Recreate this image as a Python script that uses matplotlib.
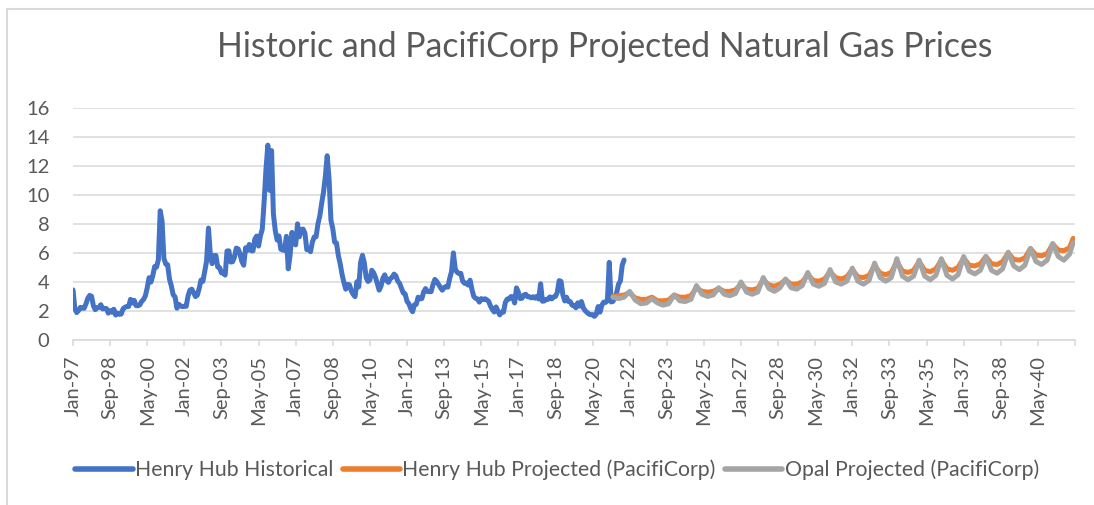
import matplotlib
matplotlib.use('Agg')
import matplotlib.pyplot as plt
from matplotlib.patches import Rectangle

plt.rcParams['font.family'] = ['Lato', 'DejaVu Sans']

# Henry Hub monthly prices, Jan-97 .. Oct-21 ($/MMBtu)
henry_hub_hist = [
    3.45, 2.15, 1.89, 2.03, 2.25, 2.20, 2.19, 2.49, 2.88, 3.07, 3.01, 2.35,
    2.09, 2.23, 2.24, 2.43, 2.14, 2.17, 2.17, 1.85, 2.02, 1.91, 2.12, 1.72,
    1.85, 1.77, 1.79, 2.15, 2.26, 2.30, 2.31, 2.80, 2.55, 2.73, 2.37, 2.36,
    2.42, 2.66, 2.79, 3.04, 3.59, 4.29, 3.99, 4.43, 5.06, 5.02, 5.52, 8.90,
    8.17, 5.61, 5.23, 5.19, 4.19, 3.72, 3.11, 2.97, 2.19, 2.46, 2.34, 2.30,
    2.32, 2.32, 3.03, 3.43, 3.50, 3.26, 2.99, 3.09, 3.55, 4.13, 4.04, 4.74,
    5.43, 7.71, 5.93, 5.26, 5.81, 5.82, 5.03, 4.99, 4.62, 4.63, 4.47, 6.13,
    6.14, 5.37, 5.39, 5.71, 6.33, 6.27, 5.93, 5.41, 5.15, 6.35, 6.17, 6.58,
    6.15, 6.14, 6.96, 7.16, 6.47, 7.18, 7.63, 9.53, 11.75, 13.42, 10.30, 13.05,
    8.69, 7.54, 6.89, 7.16, 6.25, 6.21, 6.17, 7.14, 4.90, 5.85, 7.41, 6.73,
    6.55, 8.00, 7.11, 7.60, 7.64, 7.35, 6.22, 6.29, 6.08, 6.74, 7.10, 7.11,
    7.99, 8.54, 9.41, 10.18, 11.27, 12.69, 11.09, 8.26, 7.67, 6.74, 6.68, 5.82,
    5.24, 4.52, 3.96, 3.50, 3.83, 3.80, 3.38, 3.14, 2.99, 4.01, 3.66, 5.35,
    5.83, 5.32, 4.29, 4.03, 4.14, 4.80, 4.63, 4.32, 3.89, 3.43, 3.71, 4.25,
    4.49, 4.09, 3.97, 4.24, 4.31, 4.54, 4.42, 4.06, 3.90, 3.57, 3.24, 3.17,
    2.67, 2.50, 2.17, 1.95, 2.43, 2.46, 2.95, 2.84, 2.85, 3.32, 3.54, 3.34,
    3.33, 3.33, 3.81, 4.17, 4.04, 3.83, 3.62, 3.43, 3.62, 3.68, 3.64, 4.24,
    4.71, 6.00, 4.90, 4.66, 4.58, 4.59, 4.05, 3.91, 3.92, 3.78, 4.12, 3.48,
    2.99, 2.87, 2.83, 2.61, 2.85, 2.78, 2.84, 2.77, 2.66, 2.34, 2.09, 1.93,
    2.28, 1.99, 1.73, 1.92, 1.92, 2.59, 2.82, 2.82, 2.99, 2.98, 2.55, 3.59,
    3.30, 2.85, 2.88, 3.10, 3.15, 2.98, 2.98, 2.90, 2.98, 2.88, 3.01, 2.82,
    3.87, 2.67, 2.69, 2.80, 2.80, 2.97, 2.83, 2.96, 3.00, 3.28, 4.09, 4.04,
    3.11, 2.69, 2.95, 2.65, 2.64, 2.40, 2.37, 2.22, 2.56, 2.33, 2.65, 2.22,
    2.02, 1.91, 1.79, 1.74, 1.75, 1.63, 1.77, 2.30, 1.92, 2.39, 2.61, 2.59,
    2.71, 5.35, 2.62, 2.66, 2.91, 3.26, 3.84, 4.07, 5.16, 5.51,
]

# projections read quarterly (Jan, Apr, Jul, Oct) from Apr-21, plus Dec-41
proj_years = list(range(2021, 2042))
proj_quarter_months = [0, 3, 6, 9]

henry_hub_proj = [
    3.00, 3.05, 3.10,
    3.25, 2.90, 2.80, 2.80,
    2.95, 2.70, 2.70, 2.75,
    3.10, 2.95, 2.95, 3.05,
    3.60, 3.35, 3.30, 3.35,
    3.55, 3.35, 3.35, 3.45,
    3.85, 3.50, 3.45, 3.55,
    4.15, 3.80, 3.70, 3.85,
    4.15, 3.85, 3.85, 4.00,
    4.50, 4.10, 4.05, 4.20,
    4.70, 4.30, 4.20, 4.35,
    4.85, 4.35, 4.30, 4.45,
    5.15, 4.60, 4.50, 4.65,
    5.40, 4.75, 4.65, 4.80,
    5.40, 4.80, 4.70, 4.90,
    5.50, 4.90, 4.80, 5.00,
    5.65, 5.15, 5.10, 5.25,
    5.75, 5.25, 5.20, 5.40,
    6.00, 5.55, 5.50, 5.65,
    6.30, 5.85, 5.80, 5.95,
    6.60, 6.20, 6.15, 6.35,
    7.00,
]

opal_proj = [
    2.95, 2.85, 2.95,
    3.35, 2.75, 2.50, 2.55,
    2.85, 2.55, 2.40, 2.50,
    3.10, 2.70, 2.65, 2.80,
    3.75, 3.15, 3.00, 3.10,
    3.60, 3.15, 3.05, 3.20,
    4.00, 3.30, 3.15, 3.30,
    4.30, 3.55, 3.35, 3.60,
    4.20, 3.60, 3.50, 3.75,
    4.65, 3.85, 3.70, 3.90,
    4.85, 4.00, 3.85, 4.05,
    4.95, 4.05, 3.85, 4.10,
    5.30, 4.30, 4.05, 4.30,
    5.60, 4.40, 4.15, 4.40,
    5.50, 4.40, 4.15, 4.45,
    5.60, 4.45, 4.20, 4.50,
    5.75, 4.75, 4.55, 4.80,
    5.75, 4.80, 4.60, 4.90,
    6.05, 5.10, 4.85, 5.15,
    6.30, 5.40, 5.20, 5.50,
    6.65, 5.75, 5.50, 5.90,
    6.70,
]

tick_labels = ['Jan-97', 'Sep-98', 'May-00', 'Jan-02', 'Sep-03', 'May-05', 'Jan-07',
               'Sep-08', 'May-10', 'Jan-12', 'Sep-13', 'May-15', 'Jan-17', 'Sep-18',
               'May-20', 'Jan-22', 'Sep-23', 'May-25', 'Jan-27', 'Sep-28', 'May-30',
               'Jan-32', 'Sep-33', 'May-35', 'Jan-37', 'Sep-38', 'May-40']

TEXT = '#595959'
GRID = '#D9D9D9'

# month index, Jan-97 = 0
hist_x = list(range(len(henry_hub_hist)))
proj_x = [(y - 1997) * 12 + m for y in proj_years for m in proj_quarter_months][1:]
proj_x.append((2041 - 1997) * 12 + 11)

fig = plt.figure(figsize=(10.94, 5.05), dpi=100)
ax = fig.add_axes([73 / 1094, 1 - 340 / 505, 1002 / 1094, 232.3 / 505])

ax.plot(hist_x, henry_hub_hist, color='#4472C4', lw=3.6, solid_joinstyle='round',
        solid_capstyle='round', label='Henry Hub Historical')
ax.plot(proj_x, henry_hub_proj, color='#ED7D31', lw=3.6, solid_joinstyle='round',
        solid_capstyle='round', label='Henry Hub Projected (PacifiCorp)')
ax.plot(proj_x, opal_proj, color='#A5A5A5', lw=3.6, solid_joinstyle='round',
        solid_capstyle='round', label='Opal Projected (PacifiCorp)')

ax.set_xlim(0, 540)
ax.set_ylim(0, 16)
ax.set_yticks(range(0, 17, 2))
ax.set_xticks([20 * i for i in range(len(tick_labels))])
ax.set_xticklabels(tick_labels, rotation=90)
ax.set_xticks([20 * i for i in range(28)], minor=True)

ax.grid(axis='y', color=GRID, lw=1.1)
ax.set_axisbelow(True)
for side in ['top', 'right', 'left']:
    ax.spines[side].set_visible(False)
ax.spines['bottom'].set_color(GRID)
ax.spines['bottom'].set_linewidth(1.1)

ax.tick_params(axis='y', length=0, pad=17, labelsize=14.5, labelcolor=TEXT)
ax.tick_params(axis='x', which='both', length=4, width=1.1, color=GRID, pad=7,
               labelsize=14.5, labelcolor=TEXT)

fig.text(605 / 1094, 1 - 47 / 505, 'Historic and PacifiCorp Projected Natural Gas Prices',
         ha='center', va='center', fontsize=24.3, color=TEXT)

leg = fig.legend(loc='center', bbox_to_anchor=(557 / 1094, 1 - 470 / 505), ncol=3,
                 frameon=False, fontsize=15.3, handlelength=2.7, handletextpad=0.1,
                 columnspacing=0.45, labelcolor=TEXT)
for line in leg.get_lines():
    line.set_linewidth(4)

fig.add_artist(Rectangle((7 / 1094, -0.1), 1.2, 1.1 - 9 / 505, transform=fig.transFigure,
                         fill=False, ec=GRID, lw=1.5))

fig.savefig('out.png', dpi=100)
